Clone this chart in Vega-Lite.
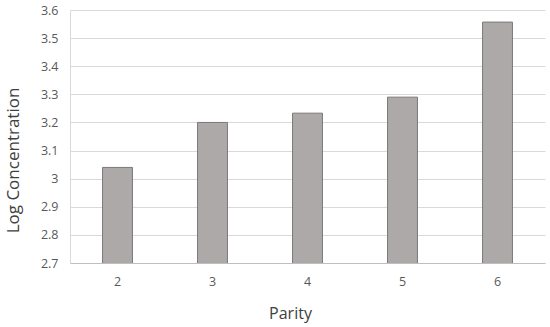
{
  "$schema": "https://vega.github.io/schema/vega-lite/v6.json",
  "width": 475,
  "height": 253,
  "autosize": {"type": "none"},
  "padding": {"left": 70, "top": 10, "right": 5, "bottom": 64},
  "background": "white",
  "config": {"view": {"stroke": null}, "font": "Open Sans"},
  "data": {"values": [
    {"parity": "2", "value": 3.04},
    {"parity": "3", "value": 3.2},
    {"parity": "4", "value": 3.233},
    {"parity": "5", "value": 3.29},
    {"parity": "6", "value": 3.557}
  ]},
  "mark": {"type": "bar", "fill": "#ada9a8", "stroke": "#7a7a7a", "strokeWidth": 1, "clip": true},
  "encoding": {
    "x": {
      "field": "parity", "type": "ordinal", "title": "Parity",
      "scale": {"paddingInner": 0.685, "paddingOuter": 0.3425},
      "axis": {"labelAngle": 0, "ticks": false, "domainColor": "#bfbfbf", "labelColor": "#595959", "labelFontSize": 12.5, "labelPadding": 12, "titleColor": "#404040", "titleFontSize": 16, "titleFontWeight": "normal", "titleX": 220, "titleY": 50, "titleAlign": "center", "titleBaseline": "middle"}
    },
    "y": {
      "field": "value", "type": "quantitative", "title": "Log Concentration",
      "scale": {"domain": [2.7, 3.6], "zero": false, "nice": false},
      "axis": {"values": [2.7, 2.8, 2.9, 3.0, 3.1, 3.2, 3.3, 3.4, 3.5, 3.6], "format": "~g", "ticks": false, "domainColor": "#d9d9d9", "gridColor": "#d9d9d9", "labelColor": "#595959", "labelFontSize": 12.5, "labelPadding": 12, "titleColor": "#404040", "titleFontSize": 17, "titleFontWeight": "normal", "titleX": -57, "titleY": 150, "titleAngle": -90, "titleAlign": "center", "titleBaseline": "middle"}
    }
  }
}
